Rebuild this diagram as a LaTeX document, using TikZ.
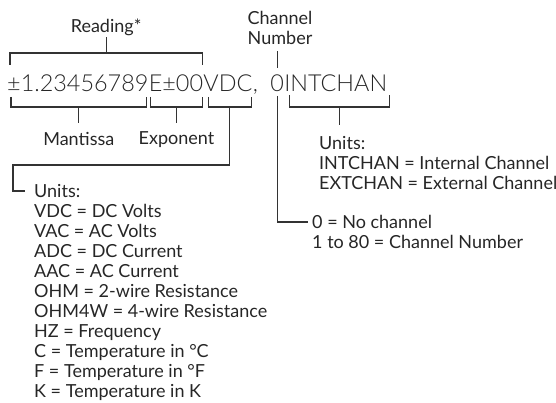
\documentclass[tikz,border=0pt]{standalone}
\usepackage{fontspec}
\usepackage{tikz}
\usetikzlibrary{positioning}
\setmainfont{Lato}
\newfontfamily\readingfont{Lato Light}

\tikzset{
  brack/.style={draw=black!80, line width=1.1pt},
  readout/.style={inner sep=0pt, text=black!85, font=\readingfont\fontsize{23.4}{23.4}\selectfont},
  toplab/.style={inner sep=1pt, text=black!85, font=\fontsize{18}{20}\selectfont},
  sublab/.style={toplab, outer ysep=8pt},
  unitlist/.style={inner sep=0pt, anchor=north west, align=left, text=black!85, font=\fontsize{18}{20}\selectfont}
}

\begin{document}
\begin{tikzpicture}[x=1pt,y=-1pt]
\useasboundingbox (0,0) rectangle (556,403);

% the reading string
\node[readout, anchor=base west] (mant) at (7,92) {±1.23456789};
\node[readout, base right=0pt of mant] (expo) {E±00};
\node[readout, base right=0pt of expo] (unit) {VDC};
\node[readout, base right=0pt of unit] (comma) {,};
\node[readout, base right=12pt of comma] (chan) {0};
\node[readout, base right=0pt of chan] (chtype) {INTCHAN};

% reading
\draw[brack] ([shift={(3pt,27pt)}]mant.base west) -- ++(0,-12) -| coordinate[pos=.25] (rdbar) ([shift={(-1pt,27pt)}]expo.base east);
\node[toplab, above=16pt of rdbar] (rdlab) {Reading*};
\draw[brack] (rdbar) -- (rdlab);

% mantissa and exponent
\draw[brack] ([shift={(4pt,-5pt)}]mant.base west) -- ++(0,10) -| coordinate[pos=.25] (mnbar) ([shift={(-2pt,-5pt)}]mant.base east);
\node[sublab, below=16pt of mnbar] (mnlab) {Mantissa};
\draw[brack] (mnbar) -- (mnlab);

\draw[brack] ([shift={(2pt,-5pt)}]expo.base west) -- ++(0,10) -| coordinate[pos=.25] (exbar) ([shift={(-1pt,-5pt)}]expo.base east);
\node[sublab, below=16pt of exbar] (exlab) {Exponent};
\draw[brack] (exbar) -- (exlab);

% units of the reading
\draw[brack] ([shift={(5pt,-5pt)}]unit.base west) -- ++(0,10) -| coordinate[pos=.25] (unbar) ([shift={(-1pt,-5pt)}]unit.base east);
\node[unitlist] (unlist) at (34,184) {Units:\\VDC = DC Volts\\VAC = AC Volts\\ADC = DC Current\\AAC = AC Current\\OHM = 2-wire Resistance\\OHM4W = 4-wire Resistance\\HZ = Frequency\\C = Temperature in °C\\F = Temperature in °F\\K = Temperature in K};
\draw[brack] (unbar) -- ++(0,58) -| ([shift={(-21pt,-7pt)}]unlist.north west) -- ++(12,0);

% channel
\node[toplab, align=center, outer ysep=5pt] (chlab) at (280,28) {Channel\\Number};
\draw[brack] ([yshift=24pt]chan.base) -- (chan.base |- chlab.south);

\node[unitlist] (chlist) at (312,215.5) {0 = No channel\\1 to 80 = Channel Number};
\draw[brack] ([yshift=-4pt]chan.base) |- ([shift={(-4pt,-6.5pt)}]chlist.north west);

\draw[brack] ([shift={(5pt,-3pt)}]chtype.base west) -- ++(0,12) -| coordinate[pos=.25] (ctbar) ([shift={(2pt,-3pt)}]chtype.base east);
\draw[brack] (ctbar) -- ++(0,18);
\node[unitlist] (ctlist) at (319,136) {Units:\\INTCHAN = Internal Channel\\EXTCHAN = External Channel};
\end{tikzpicture}
\end{document}
